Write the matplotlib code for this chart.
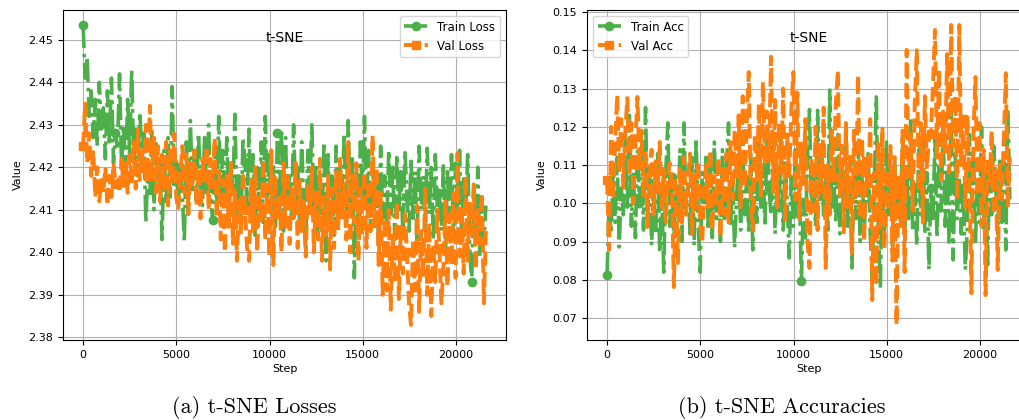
import numpy as np
import matplotlib
matplotlib.use("Agg")
import matplotlib.pyplot as plt

n_points = 200
steps = np.linspace(0, 21600, n_points)

train_loss = [
    2.4535, 2.441, 2.446, 2.432, 2.438, 2.427, 2.436, 2.425, 2.440, 2.429,
    2.434, 2.422, 2.438, 2.426, 2.441, 2.421, 2.428, 2.425, 2.442, 2.420,
    2.430, 2.419, 2.436, 2.423, 2.443, 2.421, 2.429, 2.418, 2.433, 2.424,
    2.428, 2.407, 2.420, 2.413, 2.429, 2.410, 2.426, 2.415, 2.421, 2.403,
    2.424, 2.412, 2.427, 2.413, 2.439, 2.415, 2.422, 2.411, 2.420, 2.414,
    2.4025, 2.426, 2.409, 2.431, 2.414, 2.424, 2.412, 2.428, 2.416, 2.411,
    2.427, 2.414, 2.430, 2.413, 2.4075, 2.425, 2.410, 2.432, 2.414, 2.424,
    2.412, 2.427, 2.410, 2.421, 2.414, 2.4325, 2.409, 2.418, 2.406, 2.427,
    2.4212, 2.411, 2.429, 2.408, 2.423, 2.404, 2.420, 2.410, 2.426, 2.407,
    2.432, 2.412, 2.424, 2.409, 2.421, 2.406, 2.428, 2.411, 2.429, 2.405,
    2.427, 2.410, 2.419, 2.408, 2.430, 2.412, 2.420, 2.407, 2.426, 2.411,
    2.400, 2.424, 2.415, 2.430, 2.409, 2.421, 2.404, 2.417, 2.405, 2.426,
    2.398, 2.423, 2.407, 2.418, 2.404, 2.425, 2.409, 2.420, 2.414, 2.428,
    2.408, 2.431, 2.410, 2.422, 2.394, 2.419, 2.407, 2.426, 2.412, 2.432,
    2.410, 2.424, 2.405, 2.421, 2.413, 2.419, 2.401, 2.425, 2.408, 2.418,
    2.406, 2.424, 2.409, 2.420, 2.403, 2.423, 2.410, 2.419, 2.404, 2.424,
    2.413, 2.405, 2.422, 2.408, 2.419, 2.402, 2.425, 2.410, 2.418, 2.406,
    2.4245, 2.409, 2.420, 2.403, 2.423, 2.411, 2.414, 2.405, 2.421, 2.400,
    2.419, 2.407, 2.423, 2.403, 2.421, 2.410, 2.424, 2.404, 2.418, 2.409,
    2.423, 2.401, 2.393, 2.415, 2.404, 2.420, 2.399, 2.413, 2.402, 2.411,
]

val_loss = [
    2.425, 2.435, 2.421, 2.428, 2.418, 2.424, 2.413, 2.420, 2.412, 2.417,
    2.414, 2.420, 2.411, 2.418, 2.413, 2.421, 2.416, 2.417, 2.414, 2.422,
    2.415, 2.421, 2.414, 2.423, 2.416, 2.426, 2.415, 2.429, 2.417, 2.424,
    2.419, 2.430, 2.418, 2.4345, 2.418, 2.427, 2.414, 2.425, 2.412, 2.423,
    2.415, 2.426, 2.411, 2.424, 2.416, 2.428, 2.413, 2.410, 2.418, 2.425,
    2.414, 2.423, 2.409, 2.421, 2.416, 2.424, 2.411, 2.420, 2.408, 2.422,
    2.417, 2.425, 2.410, 2.422, 2.416, 2.427, 2.408, 2.419, 2.403, 2.417,
    2.400, 2.418, 2.406, 2.421, 2.402, 2.415, 2.398, 2.412, 2.404, 2.419,
    2.410, 2.401, 2.398, 2.417, 2.405, 2.420, 2.400, 2.413, 2.407, 2.422,
    2.403, 2.416, 2.399, 2.424, 2.397, 2.418, 2.409, 2.414, 2.400, 2.421,
    2.406, 2.419, 2.402, 2.415, 2.408, 2.421, 2.401, 2.417, 2.405, 2.412,
    2.399, 2.416, 2.410, 2.420, 2.400, 2.414, 2.403, 2.422, 2.398, 2.413,
    2.404, 2.418, 2.396, 2.415, 2.401, 2.419, 2.405, 2.422, 2.409, 2.416,
    2.403, 2.426, 2.400, 2.418, 2.407, 2.421, 2.398, 2.415, 2.404, 2.419,
    2.401, 2.417, 2.405, 2.4275, 2.407, 2.420, 2.397, 2.414, 2.390, 2.408,
    2.391, 2.410, 2.3865, 2.404, 2.393, 2.412, 2.389, 2.406, 2.395, 2.409,
    2.400, 2.388, 2.3829, 2.403, 2.391, 2.411, 2.386, 2.405, 2.394, 2.415,
    2.390, 2.407, 2.385, 2.402, 2.393, 2.410, 2.401, 2.388, 2.396, 2.412,
    2.392, 2.409, 2.397, 2.414, 2.394, 2.4233, 2.399, 2.411, 2.395, 2.418,
    2.398, 2.412, 2.405, 2.416, 2.396, 2.410, 2.402, 2.414, 2.388, 2.405,
]

train_acc = [
    0.0813, 0.100, 0.092, 0.109, 0.095, 0.112, 0.0886, 0.104, 0.097, 0.118,
    0.099, 0.123, 0.094, 0.108, 0.091, 0.114, 0.100, 0.117, 0.093, 0.125,
    0.096, 0.110, 0.089, 0.106, 0.092, 0.113, 0.087, 0.104, 0.082, 0.108,
    0.121, 0.094, 0.107, 0.091, 0.103, 0.096, 0.114, 0.090, 0.121, 0.098,
    0.105, 0.092, 0.112, 0.089, 0.117, 0.095, 0.082, 0.108, 0.101, 0.113,
    0.093, 0.110, 0.091, 0.116, 0.096, 0.106, 0.090, 0.114, 0.095, 0.109,
    0.121, 0.094, 0.105, 0.0883, 0.102, 0.111, 0.093, 0.118, 0.097, 0.107,
    0.092, 0.113, 0.0878, 0.106, 0.095, 0.116, 0.099, 0.110, 0.094, 0.119,
    0.104, 0.097, 0.115, 0.092, 0.109, 0.098, 0.118, 0.093, 0.111, 0.100,
    0.0857, 0.107, 0.094, 0.114, 0.096, 0.105, 0.0796, 0.101, 0.091, 0.112,
    0.1245, 0.098, 0.110, 0.094, 0.1243, 0.101, 0.115, 0.096, 0.108, 0.093,
    0.1296, 0.099, 0.106, 0.095, 0.118, 0.092, 0.109, 0.097, 0.120, 0.094,
    0.106, 0.0831, 0.111, 0.096, 0.115, 0.090, 0.108, 0.093, 0.103, 0.113,
    0.092, 0.0807, 0.104, 0.1278, 0.095, 0.0779, 0.110, 0.091, 0.116, 0.097,
    0.108, 0.089, 0.113, 0.094, 0.103, 0.098, 0.117, 0.091, 0.110, 0.096,
    0.1226, 0.093, 0.106, 0.089, 0.114, 0.097, 0.119, 0.092, 0.108, 0.0826,
    0.104, 0.095, 0.117, 0.091, 0.112, 0.098, 0.121, 0.094, 0.109, 0.089,
    0.1252, 0.0852, 0.113, 0.096, 0.107, 0.092, 0.104, 0.0826, 0.094, 0.118,
    0.099, 0.114, 0.090, 0.106, 0.095, 0.120, 0.093, 0.109, 0.0839, 0.112,
    0.097, 0.115, 0.105, 0.092, 0.111, 0.095, 0.118, 0.0878, 0.1244, 0.101,
]

val_acc = [
    0.106, 0.0878, 0.120, 0.101, 0.116, 0.1283, 0.108, 0.122, 0.104, 0.119,
    0.1275, 0.107, 0.121, 0.100, 0.116, 0.1278, 0.110, 0.119, 0.102, 0.114,
    0.0938, 0.108, 0.114, 0.097, 0.111, 0.103, 0.116, 0.099, 0.109, 0.095,
    0.107, 0.1105, 0.105, 0.0781, 0.104, 0.0844, 0.109, 0.095, 0.112, 0.097,
    0.106, 0.113, 0.092, 0.108, 0.099, 0.111, 0.094, 0.0896, 0.103, 0.110,
    0.098, 0.114, 0.093, 0.107, 0.100, 0.112, 0.091, 0.109, 0.097, 0.113,
    0.095, 0.116, 0.101, 0.119, 0.108, 0.123, 0.099, 0.128, 0.104, 0.121,
    0.1343, 0.100, 0.093, 0.118, 0.106, 0.126, 0.102, 0.1317, 0.110, 0.124,
    0.112, 0.1383, 0.103, 0.127, 0.099, 0.121, 0.108, 0.130, 0.095, 0.118,
    0.107, 0.124, 0.1343, 0.101, 0.129, 0.096, 0.115, 0.105, 0.122, 0.090,
    0.0831, 0.112, 0.098, 0.120, 0.093, 0.116, 0.103, 0.125, 0.0831, 0.110,
    0.097, 0.119, 0.107, 0.126, 0.1348, 0.102, 0.115, 0.092, 0.121, 0.099,
    0.113, 0.087, 0.119, 0.101, 0.1335, 0.096, 0.117, 0.090, 0.111, 0.104,
    0.122, 0.0747, 0.108, 0.0786, 0.116, 0.093, 0.120, 0.088, 0.109, 0.098,
    0.115, 0.085, 0.112, 0.0682, 0.106, 0.094, 0.119, 0.082, 0.1401, 0.107,
    0.118, 0.098, 0.126, 0.1400, 0.103, 0.121, 0.095, 0.128, 0.109, 0.117,
    0.118, 0.131, 0.1453, 0.112, 0.135, 0.106, 0.124, 0.113, 0.139, 0.108,
    0.1466, 0.115, 0.128, 0.101, 0.1466, 0.110, 0.122, 0.099, 0.123, 0.107,
    0.0765, 0.118, 0.133, 0.102, 0.121, 0.094, 0.114, 0.076, 0.112, 0.105,
    0.119, 0.097, 0.108, 0.0826, 0.110, 0.101, 0.116, 0.134, 0.099, 0.112,
]

panel_titles = ["t-SNE", "t-SNE"]
captions = ["(a) t-SNE Losses", "(b) t-SNE Accuracies"]
train_labels = ["Train Loss", "Train Acc"]
val_labels = ["Val Loss", "Val Acc"]
legend_locs = ["upper right", "upper left"]

GREEN = "#4daf4a"
ORANGE = "#ff7f0e"

fig = plt.figure(figsize=(10.19, 4.20), dpi=100)
ax1 = fig.add_axes([0.0618, 0.1905, 0.4348, 0.7857])
ax2 = fig.add_axes([0.5760, 0.1905, 0.4348, 0.7857])

series = [(train_loss, val_loss), (train_acc, val_acc)]
for i, ax in enumerate([ax1, ax2]):
    tr, va = series[i]
    ax.plot(steps, tr, color=GREEN, linestyle="-.", linewidth=2.6,
            marker="o", markersize=6, markevery=16, label=train_labels[i])
    ax.plot(steps, va, color=ORANGE, linestyle="--", linewidth=2.8,
            marker="s", markersize=6, markevery=16, label=val_labels[i])
    ax.grid(True, color="#b0b0b0", linewidth=0.8)
    ax.set_axisbelow(True)
    ax.tick_params(labelsize=8)
    ax.set_xlabel("Step", fontsize=8, labelpad=3)
    ax.set_ylabel("Value", fontsize=8, labelpad=4)
    ax.text(0.5, 0.915, panel_titles[i], transform=ax.transAxes,
            ha="center", va="center", fontsize=10)
    ax.legend(loc=legend_locs[i], fontsize=8.5, framealpha=0.8)

fig.text(0.250, 0.030, captions[0], ha="center", va="center",
         fontsize=16, family="cmr10")
fig.text(0.767, 0.030, captions[1], ha="center", va="center",
         fontsize=16, family="cmr10")

fig.savefig("out.png", dpi=100)
